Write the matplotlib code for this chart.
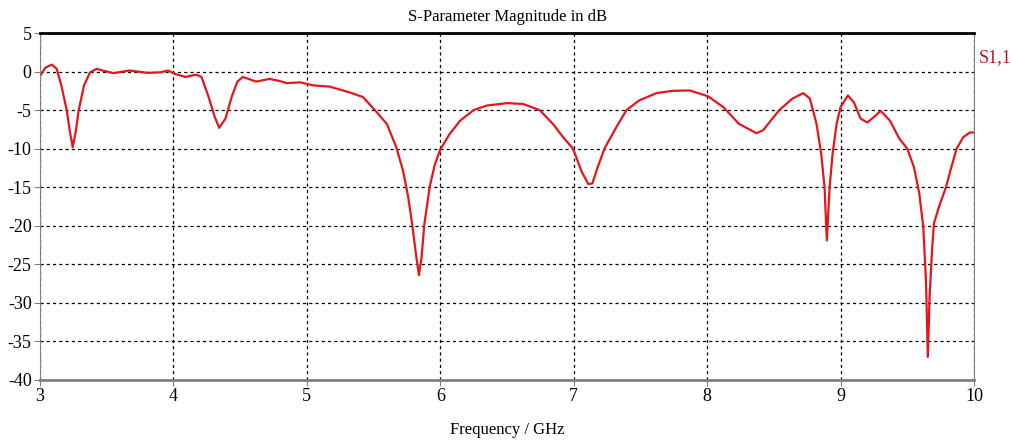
import matplotlib
matplotlib.use('Agg')
import matplotlib.pyplot as plt

plt.rcParams['font.family'] = ['Liberation Serif', 'DejaVu Serif']
plt.rcParams['axes.unicode_minus'] = False

# frequency in GHz
freq = [3.00, 3.04, 3.088, 3.125, 3.16, 3.20, 3.225, 3.245, 3.267, 3.29, 3.33, 3.375,
        3.425, 3.47, 3.55, 3.67, 3.81, 3.90, 3.96, 4.01, 4.09, 4.17, 4.21, 4.26,
        4.31, 4.343, 4.39, 4.44, 4.48, 4.52, 4.57, 4.62, 4.72, 4.79, 4.85, 4.95,
        5.05, 5.17, 5.32, 5.42, 5.51, 5.60, 5.67, 5.72, 5.76, 5.79, 5.82, 5.84,
        5.86, 5.88, 5.92, 5.96, 6.00, 6.07, 6.15, 6.25, 6.35, 6.50, 6.62, 6.745,
        6.845, 6.92, 6.995, 7.06, 7.11, 7.14, 7.18, 7.23, 7.32, 7.395, 7.49, 7.62,
        7.74, 7.87, 8.006, 8.12, 8.24, 8.37, 8.42, 8.54, 8.64, 8.72, 8.77, 8.82,
        8.855, 8.88, 8.897, 8.918, 8.94, 8.97, 9.00, 9.055, 9.10, 9.15, 9.20, 9.25,
        9.30, 9.37, 9.44, 9.50, 9.55, 9.59, 9.62, 9.64, 9.654, 9.667, 9.687, 9.70,
        9.74, 9.79, 9.83, 9.87, 9.92, 9.97, 10.0]
# S1,1 magnitude in dB
s11 = [-0.6, 0.5, 0.9, 0.35, -1.8, -5.0, -7.9, -9.8, -7.9, -5.0, -1.8, -0.1,
       0.35, 0.13, -0.2, 0.13, -0.17, -0.1, 0.13, -0.3, -0.7, -0.4, -0.7, -3.1,
       -5.9, -7.3, -6.1, -3.1, -1.3, -0.7, -1.0, -1.3, -0.95, -1.2, -1.5, -1.4,
       -1.8, -1.95, -2.7, -3.3, -5.0, -6.8, -9.8, -12.8, -16.3, -19.9, -24.0, -26.4,
       -24.0, -19.9, -15.0, -12.0, -10.1, -8.1, -6.35, -5.0, -4.4, -4.1, -4.2, -5.0,
       -6.8, -8.5, -10.0, -13.0, -14.6, -14.5, -12.4, -10.0, -7.2, -5.0, -3.75, -2.8,
       -2.5, -2.45, -3.2, -4.6, -6.8, -8.0, -7.6, -5.0, -3.5, -2.8, -3.5, -6.8,
       -10.7, -15.0, -21.9, -15.0, -10.7, -6.8, -4.6, -3.1, -4.0, -6.1, -6.6, -5.9,
       -5.1, -6.35, -8.7, -10.0, -12.4, -15.8, -20.2, -27.1, -37.0, -29.2, -22.8, -19.7,
       -17.4, -15.0, -12.4, -10.0, -8.5, -7.9, -7.9]

fig = plt.figure(figsize=(10.11, 4.41), dpi=100)
ax = fig.add_axes([40 / 1011, 1 - 380 / 441, 934 / 1011, 347 / 441])

ax.plot(freq, s11, color='#e3161b', linewidth=1.6)

ax.set_xlim(3, 10)
ax.set_ylim(-40, 5)
ax.set_xticks(range(3, 11))
ax.set_yticks(range(-40, 6, 5))
ax.grid(True, color='black', linestyle=(0, (2.5, 2.5)), linewidth=0.9)

for side in ['left', 'right', 'bottom']:
    ax.spines[side].set_color('#808080')
ax.spines['bottom'].set_linewidth(2)
ax.spines['top'].set_color('black')
ax.spines['top'].set_linewidth(2)
ax.tick_params(axis='both', labelsize=13, length=4, color='#808080', pad=2)

ax.set_title('S-Parameter Magnitude in dB', fontsize=12, pad=9)
ax.set_xlabel('Frequency / GHz', fontsize=12, labelpad=12)
ax.text(1.005, 0.93, 'S1,1', transform=ax.transAxes, color='#c0141c', fontsize=13,
        ha='left', va='center')

plt.savefig('out.png', dpi=100)
